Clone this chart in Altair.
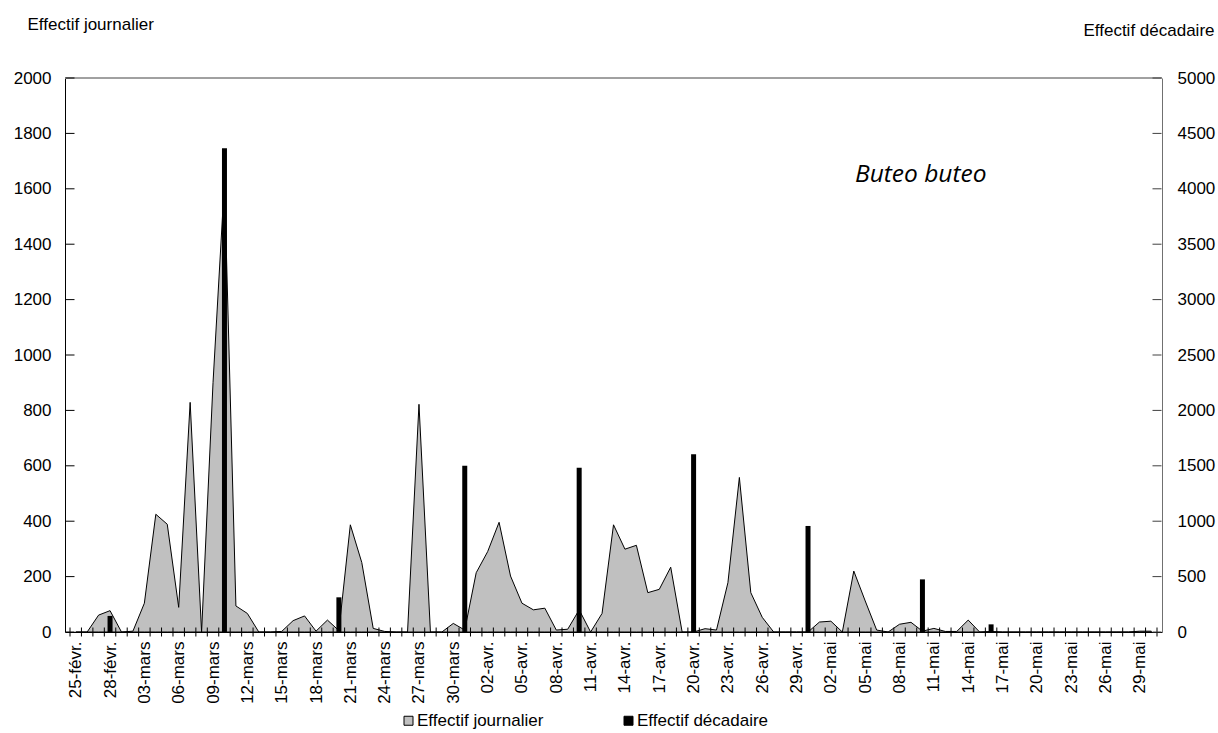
import json
import altair as alt
import pandas as pd

# Daily categories: 25 Feb -> 30 May (one band per day)
MONTHS = [("févr.", 25, 28), ("mars", 1, 31), ("avr.", 1, 30), ("mai", 1, 30)]
DAYS = [f"{d:02d}-{m}" for m, a, b in MONTHS for d in range(a, b + 1)]

# Daily counts (left axis)
DAILY = [
    0, 0, 61, 77,                                   # 25-28 févr.
    0, 3, 104, 425, 389, 89, 829, 0, 900, 1626,     # 01-10 mars
    94, 67, 0, 0, 2, 41, 58, 3, 43, 5,              # 11-20 mars
    387, 251, 13, 2, 0, 0, 822, 0, 0, 31, 7,        # 21-31 mars
    214, 290, 396, 202, 104, 80, 86, 7, 10, 80,     # 01-10 avr.
    0, 67, 387, 299, 313, 142, 154, 234, 0, 0,      # 11-20 avr.
    12, 7, 178, 558, 142, 53, 0, 0, 0, 0,           # 21-30 avr.
    36, 39, 0, 220, 112, 7, 0, 28, 35, 3,           # 01-10 mai
    13, 2, 2, 43, 0, 2, 0, 0, 0, 0,                 # 11-20 mai
    0, 0, 0, 0, 0, 0, 0, 0, 3, 3,                   # 21-30 mai
]

# Ten-day totals (right axis)
DECADE_DAYS = ["28-févr.", "10-mars", "20-mars", "31-mars", "10-avr.",
               "20-avr.", "30-avr.", "10-mai", "16-mai"]
DECADE = [145, 4365, 313, 1500, 1483, 1604, 957, 475, 69]

LEFT_TICKS = list(range(0, 2001, 200))
RIGHT_TICKS = list(range(0, 5001, 500))
LABEL_EVERY = 3

SERIES = ["Effectif journalier", "Effectif décadaire"]
FONT = "Liberation Sans"
N = len(DAYS)

daily_df = pd.DataFrame({"pos": [i + 0.5 for i in range(N)], "day": DAYS,
                         "n": DAILY, "series": SERIES[0]})
decade_df = pd.DataFrame({"pos": [DAYS.index(d) + 0.5 for d in DECADE_DAYS],
                          "day": DECADE_DAYS, "n": DECADE, "series": SERIES[1]})
xtick_df = pd.DataFrame({"b": list(range(N + 1)), "zero": 0})
ltick_df = pd.DataFrame({"v": LEFT_TICKS, "x0": 0})
rtick_df = pd.DataFrame({"v": RIGHT_TICKS, "x1": N})
note_df = pd.DataFrame({"x": [68.6], "y": [1650], "t": ["Buteo buteo"]})

xscale = alt.Scale(domain=[0, N], nice=False, zero=False)
yl = alt.Scale(domain=[0, 2000], nice=False)
yr = alt.Scale(domain=[0, 5000], nice=False)
cscale = alt.Scale(domain=SERIES, range=["#C0C0C0", "#000000"])
legend = alt.Legend(
    orient="none", direction="horizontal", legendX=335, legendY=634, title=None,
    symbolType="square", symbolSize=81, symbolStrokeColor="black", symbolStrokeWidth=1,
    labelFont=FONT, labelFontSize=17, labelColor="black", labelOffset=0,
    columnPadding=76, padding=0,
)

x_axis = alt.Axis(
    values=[i + 0.5 for i in range(0, N, LABEL_EVERY)],
    labelExpr=json.dumps(DAYS, ensure_ascii=False) + "[floor(datum.value)]",
    labelAngle=-90, labelFont=FONT, labelFontSize=17, labelColor="black",
    labelPadding=9, labelOverlap=False, labelFlush=False, labelBound=False,
    ticks=False, tickSize=0, domainColor="black", grid=False, title=None,
)
yl_axis = alt.Axis(
    values=LEFT_TICKS, orient="left", format="d", ticks=False, tickSize=0,
    labelPadding=14, labelFont=FONT, labelFontSize=17, labelColor="black",
    domainColor="black", grid=False,
    title="Effectif journalier", titleAngle=0, titleX=-38, titleY=-54,
    titleAlign="left", titleBaseline="middle", titleFont=FONT, titleFontSize=17,
    titleFontWeight="normal", titleColor="black",
)
yr_axis = alt.Axis(
    values=RIGHT_TICKS, orient="right", format="d", ticks=False, tickSize=0,
    labelPadding=15, labelFont=FONT, labelFontSize=17, labelColor="black",
    domainColor="#707070", grid=False,
    title="Effectif décadaire", titleAngle=0, titleX=52, titleY=-48,
    titleAlign="right", titleBaseline="middle", titleFont=FONT, titleFontSize=17,
    titleFontWeight="normal", titleColor="black",
)

# every layer carries the same axis definition so the shared axes merge cleanly
def X(field):
    return alt.X(field, scale=xscale, axis=x_axis)

def YL(field):
    return alt.Y(field, scale=yl, axis=yl_axis)

def YR(field):
    return alt.Y(field, scale=yr, axis=yr_axis)


area = alt.Chart(daily_df).mark_area(stroke="black", strokeWidth=1, opacity=1).encode(
    x=X("pos:Q"),
    y=YL("n:Q"),
    color=alt.Color("series:N", scale=cscale, legend=legend),
)

top_line = alt.Chart(daily_df).mark_rule(color="#A0A0A0", strokeWidth=1).encode(
    y=alt.datum(2000, scale=yl, axis=yl_axis),
)

xticks = alt.Chart(xtick_df).mark_tick(orient="vertical", size=9, thickness=1,
                                       color="black", opacity=1).encode(
    x=X("b:Q"),
    y=YL("zero:Q"),
)

lticks = alt.Chart(ltick_df).mark_tick(orient="horizontal", size=9, thickness=1,
                                       color="black", opacity=1).encode(
    x=X("x0:Q"),
    y=YL("v:Q"),
)

note = alt.Chart(note_df).mark_text(
    font="Open Sans", fontStyle="italic", fontSize=24.5, align="left",
    baseline="middle", color="black",
).encode(
    x=X("x:Q"),
    y=YL("y:Q"),
    text="t:N",
)

bars = alt.Chart(decade_df).mark_bar(size=5, opacity=1).encode(
    x=X("pos:Q"),
    y=YR("n:Q"),
    color=alt.Color("series:N", scale=cscale, legend=legend),
)

rticks = alt.Chart(rtick_df).mark_tick(orient="horizontal", size=9, thickness=1,
                                       color="#404040", opacity=1).encode(
    x=X("x1:Q"),
    y=YR("v:Q"),
)

left = alt.layer(top_line, area, xticks, lticks, note)
right = alt.layer(bars, rticks)

chart = alt.layer(left, right).resolve_scale(y="independent").properties(
    width=1097, height=554,
    autosize="none",
    padding={"left": 65, "top": 78, "right": 56, "bottom": 101},
    background="white",
).configure_view(stroke=None)

chart.save("out.html", embed_options={"renderer": "svg", "actions": False})
